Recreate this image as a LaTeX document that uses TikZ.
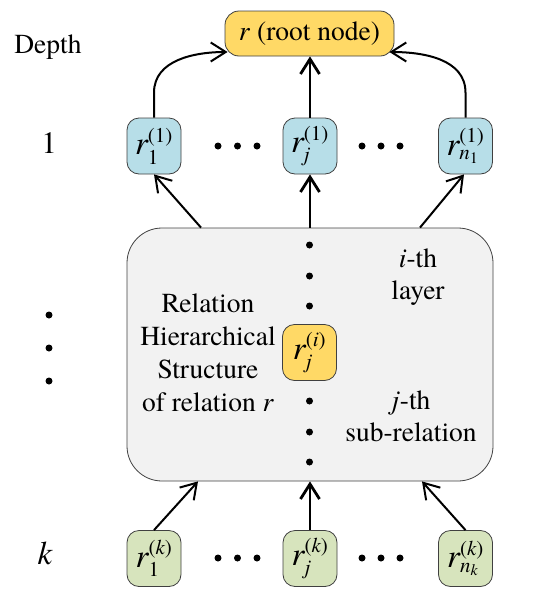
\documentclass[tikz,border=0pt]{standalone}
\usepackage{fontspec}
\setmainfont{TeX Gyre Termes}
\usepackage{amsmath}
\usetikzlibrary{arrows.meta,calc}
\DeclareMathSizes{33}{33}{21}{16}
\definecolor{rootyellow}{HTML}{FFD966}
\definecolor{lvlblue}{HTML}{B7DEE8}
\definecolor{lvlgreen}{HTML}{D7E4BD}
\definecolor{boxgray}{HTML}{F2F2F2}
\definecolor{edgegray}{HTML}{404040}
\newcommand{\subrel}[2]{$\textit{r}_{#1}^{\textup{(}#2\textup{)}}$}
\begin{document}
\begin{tikzpicture}[x=1pt,y=-1pt,
  lbl/.style={font=\fontsize{27.5}{33}\selectfont, align=center, inner sep=0},
  relbox/.style={draw=edgegray, line width=0.8pt, rounded corners=12pt, minimum width=54pt, minimum height=56pt, inner sep=0, font=\fontsize{33}{36}\selectfont},
  l1/.style={relbox, fill=lvlblue},
  lk/.style={relbox, fill=lvlgreen},
  arr/.style={-{Straight Barb[length=15pt,width=19pt]}, line width=2pt, black},
  arrthick/.style={arr, line width=2.8pt},
  dotc/.style={fill=black}
]
\useasboundingbox (0,0) rectangle (539,600);

% big box
\node[draw=edgegray, line width=0.8pt, fill=boxgray, rounded corners=35pt,
      minimum width=366pt, minimum height=253pt, inner sep=0] (big) at (310,354.5) {};

% root
\node[draw=edgegray, line width=0.8pt, fill=rootyellow, rounded corners=14pt,
      minimum width=169pt, minimum height=45pt, inner sep=0,
      font=\fontsize{27.5}{33}\selectfont] (root) at (309.5,33.5) {\textit{r} (root node)};

% depth labels
\node[lbl] (depth) at (48,47) {Depth};
\node[lbl, font=\fontsize{31}{36}\selectfont] (d1) at (49,143) {1};
\node[lbl, font=\fontsize{33}{36}\selectfont\itshape] (dk) at (45,553) {k};
\fill[dotc] (49,315) circle (3.5pt);
\fill[dotc] (49,348) circle (3.5pt);
\fill[dotc] (49,381) circle (3.5pt);

% level 1
\node[l1] (r1) at (154,146) {\subrel{\textup{1}}{\textup{1}}};
\node[l1] (rj) at (310,146) {\subrel{\textit{j}}{\textup{1}}};
\node[l1] (rn) at (465.5,146) {\subrel{\textit{n}_{\textup{1}}}{\textup{1}}};

% level k
\node[lk] (r1k) at (154,558.5) {\subrel{\textup{1}}{\textit{k}}};
\node[lk] (rjk) at (310,558.5) {\subrel{\textit{j}}{\textit{k}}};
\node[lk] (rnk) at (465.5,558.5) {\subrel{\textit{n}_{\textit{k}}}{\textit{k}}};

% horizontal dots
\foreach \x in {218,237.5,257,362,381,400}{
  \fill[dotc] (\x,146) circle (3.5pt);
  \fill[dotc] (\x,558) circle (3.5pt);
}

% inner node
\node[relbox, fill=rootyellow] (rji) at (309.5,352.5) {\subrel{\textit{j}}{\textit{i}}};

% vertical dots
\foreach \y in {245,276,306,401,432,462}{
  \fill[dotc] (309.5,\y) circle (3.5pt);
}

% texts in big box
\node[lbl] (reltext) at (208,353) {Relation\\Hierarchical\\Structure\\of relation \textit{r}};
\node[lbl, font=\fontsize{27.5}{32}\selectfont] (layertext) at (418,277.5) {\textit{i}-th\\layer};
\node[lbl, font=\fontsize{27.5}{32}\selectfont] (subtext) at (411,416) {\textit{j}-th\\sub-relation};

% arrows to root
\coordinate (rootL) at ($(root.west)+(3,18.5)$);
\coordinate (rootR) at ($(root.east)+(-5,18.5)$);
\draw[arr] (r1.north) -- ++(0,-25) to[out=90,in=180] (rootL);
\draw[arr] (rn.north) -- ++(0,-25) to[out=90,in=0] (rootR);
\draw[arrthick] (rj.north) -- (rj.north |- root.south);

% arrows from big box to level 1
\draw[arr] ($(big.north)+(-109,0)$) -- (r1.south);
\draw[arr] ($(big.north)+(110,0)$) -- ($(rn.south)+(-1.5,0)$);
\draw[arrthick] (big.north -| rj.south) -- (rj.south);

% arrows from level k to big box
\draw[arr] (r1k.north) -- ($(big.south)+(-112,0)$);
\draw[arr] (rnk.north) -- ($(big.south)+(112,0)$);
\draw[arrthick] (rjk.north) -- (rjk.north |- big.south);
\end{tikzpicture}
\end{document}
